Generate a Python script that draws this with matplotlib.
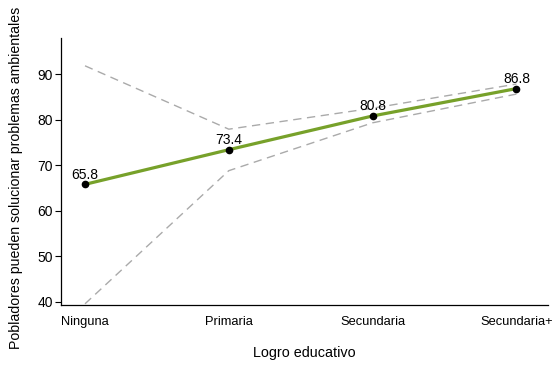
import matplotlib
matplotlib.use("Agg")
import matplotlib.pyplot as plt

categories = ["Ninguna", "Primaria", "Secundaria", "Secundaria+"]
mean_vals = [65.8, 73.4, 80.8, 86.8]
upper_vals = [91.8, 77.9, 82.5, 87.8]
lower_vals = [39.6, 68.8, 79.3, 85.6]
yticks = [40, 50, 60, 70, 80, 90]

plt.rcParams['font.family'] = ['Liberation Sans', 'DejaVu Sans']

fig = plt.figure(figsize=(5.52, 3.65), dpi=100)
ax = fig.add_axes([0.1105, 0.1644, 0.8823, 0.7315])
x = list(range(len(categories)))

ax.plot(x, upper_vals, color="#aaaaaa", lw=1.0, ls=(0, (6, 4)))
ax.plot(x, lower_vals, color="#aaaaaa", lw=1.0, ls=(0, (6, 4)))
ax.plot(x, mean_vals, color="#77a12a", lw=2.3, solid_capstyle="butt")
ax.plot(x, mean_vals, "o", color="black", ms=4.5)
for xi, v in zip(x, mean_vals):
    ax.annotate(f"{v:.1f}", (xi, v), xytext=(0, 2.0), textcoords="offset points",
                ha="center", va="bottom", fontsize=10)

ax.set_xlim(-0.167, 3.22)
ax.set_ylim(39.34, 97.9)
ax.set_xticks(x)
ax.set_xticklabels(categories, fontsize=9.3)
ax.tick_params(axis="x", length=0, pad=8)
ax.set_yticks(yticks)
ax.tick_params(axis="y", labelsize=10, length=4, width=0.8, pad=2)
for s in ["top", "right"]:
    ax.spines[s].set_visible(False)
ax.spines["left"].set_linewidth(0.9)
ax.spines["bottom"].set_linewidth(0.9)
ax.set_xlabel("Logro educativo", fontsize=10.4, labelpad=13)
ax.set_ylabel("Pobladores pueden solucionar problemas ambientales", fontsize=10.2)
ax.yaxis.set_label_coords(-0.078, 0.4775)

fig.savefig("out.png", dpi=100)
